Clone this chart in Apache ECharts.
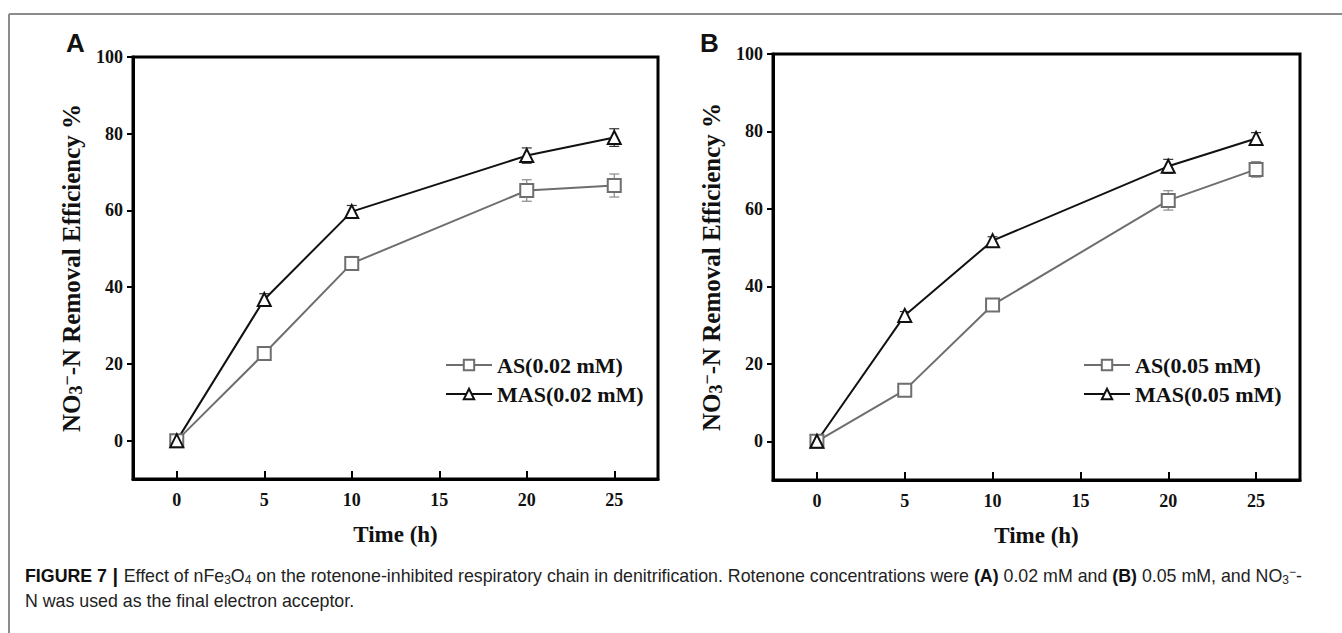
<!DOCTYPE html>
<html>
<head>
<meta charset="utf-8">
<script src="https://cdn.jsdelivr.net/npm/echarts@6/dist/echarts.min.js"></script>
<style>
html,body{margin:0;padding:0;background:#fff;}
#chart{width:1342px;height:633px;}
</style>
</head>
<body>
<div id="chart"></div>
<script>
// ---- data ----
const times = [0, 5, 10, 20, 25];
const xTicks = [0, 5, 10, 15, 20, 25];
const yTicks = [0, 20, 40, 60, 80, 100];

const asA = [0, 22.7, 46.2, 65.2, 66.5];
const asAErr = [0.8, 1.5, 1.8, 2.8, 3.0];
const masA = [0, 36.8, 59.7, 74.3, 79.0];
const masAErr = [0.5, 1.5, 1.6, 2.0, 2.3];

const asB = [0, 13.2, 35.2, 62.2, 70.2];
const asBErr = [1.5, 1.5, 1.5, 2.5, 2.0];
const masB = [0, 32.5, 51.8, 71.0, 78.2];
const masBErr = [0.5, 1.0, 1.0, 1.8, 1.5];

const nameAS_A = 'AS(0.02 mM)';
const nameMAS_A = 'MAS(0.02 mM)';
const nameAS_B = 'AS(0.05 mM)';
const nameMAS_B = 'MAS(0.05 mM)';

// ---- styles ----
const SERIF = '"Liberation Serif", "Times New Roman", serif';
const SANS = '"Liberation Sans", Arial, sans-serif';
const GRAY = '#6e6e6e';
const BLACK = '#111';

function pts(vals) { return times.map((t, i) => [t, vals[i]]); }
function errPts(vals, errs) { return times.map((t, i) => [t, vals[i] - errs[i], vals[i] + errs[i]]); }

function xAxisCfg(gi) {
  return {
    gridIndex: gi, type: 'value', min: -2.5, max: 27.5, interval: 2.5,
    axisLine: { show: true, onZero: false, lineStyle: { color: '#000', width: 3 } },
    axisTick: { show: true, inside: true, length: 8, lineStyle: { color: '#000', width: 2 }, customValues: xTicks },
    axisLabel: { show: true, margin: 12, color: '#111', fontFamily: SERIF, fontWeight: 'bold', fontSize: 18, customValues: xTicks },
    splitLine: { show: false },
    name: 'Time (h)', nameLocation: 'middle', nameGap: 44,
    nameTextStyle: { fontFamily: SERIF, fontWeight: 'bold', fontSize: 23, color: '#111' }
  };
}
function yAxisCfg(gi) {
  return {
    gridIndex: gi, type: 'value', min: -10, max: 100, interval: 10,
    axisLine: { show: true, onZero: false, lineStyle: { color: '#000', width: 3 } },
    axisTick: { show: true, inside: false, length: 6, lineStyle: { color: '#000', width: 2 }, customValues: yTicks },
    axisLabel: { show: true, margin: 10, color: '#111', fontFamily: SERIF, fontWeight: 'bold', fontSize: 18, customValues: yTicks },
    splitLine: { show: false },
    name: 'NO{sub|3}{sup|−}-N Removal Efficiency %', nameLocation: 'middle', nameGap: 48, nameRotate: 90,
    nameTextStyle: {
      fontFamily: SERIF, fontWeight: 'bold', fontSize: 25, color: '#111',
      rich: {
        sub: { fontFamily: SERIF, fontWeight: 'bold', fontSize: 18, color: '#111', verticalAlign: 'bottom', padding: [9, 0, 0, 0] },
        sup: { fontFamily: SERIF, fontWeight: 'bold', fontSize: 18, color: '#111', verticalAlign: 'top', padding: [0, 0, 9, 0] }
      }
    }
  };
}

function lineSeries(name, vals, gi, color, symbol) {
  return {
    name: name, type: 'line', xAxisIndex: gi, yAxisIndex: gi,
    data: pts(vals), symbol: symbol, symbolSize: 13, z: 5,
    lineStyle: { color: color, width: 2 },
    itemStyle: { color: color, borderColor: color, borderWidth: 1.3 },
    emphasis: { disabled: true }
  };
}
function errSeries(vals, errs, gi, color) {
  return {
    type: 'custom', xAxisIndex: gi, yAxisIndex: gi, z: 3, silent: true,
    data: errPts(vals, errs),
    renderItem: function (params, api) {
      const x = api.value(0);
      const lo = api.coord([x, api.value(1)]);
      const hi = api.coord([x, api.value(2)]);
      const w = 5;
      const st = { stroke: color, lineWidth: 1.2 };
      return { type: 'group', children: [
        { type: 'line', shape: { x1: lo[0], y1: lo[1], x2: hi[0], y2: hi[1] }, style: st },
        { type: 'line', shape: { x1: lo[0] - w, y1: lo[1], x2: lo[0] + w, y2: lo[1] }, style: st },
        { type: 'line', shape: { x1: hi[0] - w, y1: hi[1], x2: hi[0] + w, y2: hi[1] }, style: st }
      ]};
    }
  };
}

function legendCfg(left, names) {
  return {
    orient: 'vertical', left: left, top: 349, itemWidth: 46, itemHeight: 13, itemGap: 7,
    data: names, selectedMode: false,
    textStyle: { fontFamily: SERIF, fontWeight: 'bold', fontSize: 22, color: '#111' }
  };
}

const capStyle = { fontFamily: SANS, fontSize: 17.8, fill: '#222' };
const capRich = {
  b: { fontFamily: SANS, fontSize: 17.8, fontWeight: 'bold', fill: '#111' },
  bar: { fontFamily: SANS, fontSize: 20, fontWeight: 'bold', fill: '#111' },
  sub: { fontFamily: SANS, fontSize: 12, fill: '#222', verticalAlign: 'bottom', padding: [8, 0, 0, 0] },
  sup: { fontFamily: SANS, fontSize: 12, fill: '#222', verticalAlign: 'top', padding: [0, 0, 8, 0] }
};

const chart = echarts.init(document.getElementById('chart'), null, { renderer: 'svg' });
chart.setOption({
  animation: false,
  backgroundColor: '#fff',
  grid: [
    { left: 133, top: 57, width: 525, height: 422, show: true, borderColor: '#000', borderWidth: 3 },
    { left: 773, top: 54, width: 527, height: 426, show: true, borderColor: '#000', borderWidth: 3 }
  ],
  xAxis: [xAxisCfg(0), xAxisCfg(1)],
  yAxis: [yAxisCfg(0), yAxisCfg(1)],
  legend: [legendCfg(440, [nameAS_A, nameMAS_A]), legendCfg(1078, [nameAS_B, nameMAS_B])],
  series: [
    errSeries(asA, asAErr, 0, '#8a8a8a'),
    errSeries(masA, masAErr, 0, '#333'),
    lineSeries(nameAS_A, asA, 0, GRAY, 'emptyRect'),
    lineSeries(nameMAS_A, masA, 0, BLACK, 'emptyTriangle'),
    errSeries(asB, asBErr, 1, '#8a8a8a'),
    errSeries(masB, masBErr, 1, '#333'),
    lineSeries(nameAS_B, asB, 1, GRAY, 'emptyRect'),
    lineSeries(nameMAS_B, masB, 1, BLACK, 'emptyTriangle')
  ],
  graphic: [
    { type: 'line', shape: { x1: 9, y1: 14, x2: 1342, y2: 14 }, style: { stroke: '#8c8c8c', lineWidth: 2 } },
    { type: 'line', shape: { x1: 9, y1: 14, x2: 9, y2: 633 }, style: { stroke: '#8c8c8c', lineWidth: 2 } },
    { type: 'text', left: 66, top: 30, style: { text: 'A', fontFamily: SANS, fontWeight: 'bold', fontSize: 26, fill: '#111' } },
    { type: 'text', left: 700, top: 30, style: { text: 'B', fontFamily: SANS, fontWeight: 'bold', fontSize: 26, fill: '#111' } },
    { type: 'text', left: 25, top: 566, style: Object.assign({}, capStyle, {
        text: '{b|FIGURE 7}{bar| | }Effect of nFe{sub|3}O{sub|4} on the rotenone-inhibited respiratory chain in denitrification. Rotenone concentrations were {b|(A)} 0.02 mM and {b|(B)} 0.05 mM, and NO{sub|3}{sup|−}-',
        rich: capRich }) },
    { type: 'text', left: 25, top: 592, style: Object.assign({}, capStyle, { text: 'N was used as the final electron acceptor.' }) }
  ]
});
</script>
</body>
</html>
